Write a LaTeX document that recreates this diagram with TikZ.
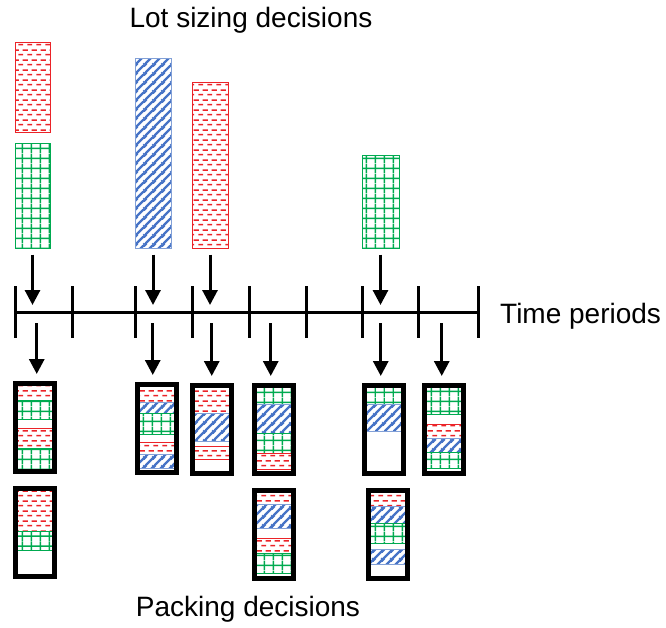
\documentclass[tikz,border=0pt]{standalone}
\usepackage{fontspec}
\setmainfont{Liberation Sans}
\usetikzlibrary{arrows.meta,patterns.meta}

\definecolor{lsred}{RGB}{235,35,40}
\definecolor{lsgreen}{RGB}{0,170,80}
\definecolor{lsblue}{RGB}{70,115,198}
\definecolor{lsblueedge}{RGB}{130,160,215}

\tikzdeclarepattern{
  name=reddash,
  type=colored,
  bottom left={(0pt,0pt)},
  top right={(9pt,10pt)},
  tile size={(9pt,10pt)},
  code={
    \draw[lsred, line width=1.6pt] (0.5pt,2.5pt) -- (5.5pt,2.5pt);
    \draw[lsred, line width=1.6pt] (5pt,7.5pt) -- (9pt,7.5pt);
    \draw[lsred, line width=1.6pt] (0pt,7.5pt) -- (1pt,7.5pt);
  }
}
\tikzdeclarepattern{
  name=greengrid,
  type=colored,
  bottom left={(0pt,0pt)},
  top right={(9.3pt,9.6pt)},
  tile size={(9.3pt,9.6pt)},
  code={
    \draw[lsgreen, line width=1.4pt] (4.65pt,0pt) -- (4.65pt,9.6pt);
    \draw[lsgreen, line width=1.4pt] (0pt,4.8pt) -- (9.3pt,4.8pt);
  }
}
\tikzdeclarepattern{
  name=bluehatch,
  type=colored,
  bottom left={(0pt,0pt)},
  top right={(8.5pt,8.5pt)},
  tile size={(8.5pt,8.5pt)},
  code={
    \draw[lsblue, line width=2.4pt] (-1pt,-1pt) -- (9.5pt,9.5pt);
    \draw[lsblue, line width=2.4pt] (-1.5pt,7pt) -- (1.5pt,10pt);
    \draw[lsblue, line width=2.4pt] (7pt,-1.5pt) -- (10pt,1.5pt);
  }
}

\begin{document}
\begin{tikzpicture}[x=1pt,y=-1pt,
    lbl/.style={font=\fontsize{28}{32}\selectfont, inner sep=0pt},
    lot/.style={inner sep=0pt, line width=1.5pt},
    rd/.style={draw=lsred, line width=1pt, pattern=reddash},
    gd/.style={draw=lsgreen, line width=1pt, pattern=greengrid},
    bd/.style={draw=lsblueedge, line width=1pt, pattern=bluehatch},
    bin/.style={draw, line width=4.5pt, minimum width=39pt, minimum height=88pt,
      inner sep=0pt, anchor=north west},
    arr/.style={-{Triangle[length=15pt,width=15pt]}, line width=3pt},
    axis/.style={line width=3pt},
    tick/.style={line width=3pt}]
  \useasboundingbox (0,0) rectangle (666,627);

  \node[lbl] (lotlabel) at (251,20) {Lot sizing decisions};
  \node[lbl] (packlabel) at (248,609) {Packing decisions};
  \node[lbl, anchor=west] (timelabel) at (500,316) {Time periods};

  % lot sizing bars
  \node[lot, rd, minimum width=35pt, minimum height=90pt] (lsA) at (32.5,87) {};
  \node[lot, gd, minimum width=35pt, minimum height=105pt] (lsB) at (32.5,195.5) {};
  \node[lot, bd, minimum width=36pt, minimum height=190pt] (lsC) at (153,153) {};
  \node[lot, rd, minimum width=36pt, minimum height=166pt] (lsD) at (210,165) {};
  \node[lot, gd, minimum width=37pt, minimum height=93pt] (lsE) at (380.5,201.5) {};

  % time axis
  \coordinate (t0) at (15,312);
  \coordinate (t8) at (478,312);
  \draw[axis] (t0) -- (t8);
  \foreach \x in {15,72,135,192,249,306,362,418,478}
    \draw[tick] (\x,286) -- (\x,338);

  % bins
  \begin{scope}[shift={(13,381)}]
    \path[rd] (0,0) rectangle (39,19);
    \path[gd] (0,19) rectangle (39,38);
    \path[rd] (0,47) rectangle (39,67);
    \path[gd] (0,67) rectangle (39,88);
    \node[bin] (pA) at (0,0) {};
  \end{scope}
  \begin{scope}[shift={(13,486)}]
    \path[rd] (0,0) rectangle (39,45);
    \path[gd] (0,45) rectangle (39,64);
    \node[bin] (pA2) at (0,0) {};
  \end{scope}
  \begin{scope}[shift={(135,382)}]
    \path[rd] (0,2) rectangle (39,20);
    \path[bd] (0,20) rectangle (39,31);
    \path[gd] (0,31) rectangle (39,52);
    \path[rd] (0,60) rectangle (39,72);
    \path[bd] (0,72) rectangle (39,86);
    \node[bin] (pB) at (0,0) {};
  \end{scope}
  \begin{scope}[shift={(190,383)}]
    \path[rd] (0,0) rectangle (39,30);
    \path[bd] (0,30) rectangle (39,58);
    \path[rd] (0,63) rectangle (39,76);
    \node[bin] (pC) at (0,0) {};
  \end{scope}
  \begin{scope}[shift={(252,383)}]
    \path[gd] (0,0) rectangle (39,21);
    \path[bd] (0,21) rectangle (39,50);
    \path[gd] (0,50) rectangle (39,70);
    \path[rd] (0,70) rectangle (39,86);
    \node[bin] (pD) at (0,0) {};
  \end{scope}
  \begin{scope}[shift={(252,488)}]
    \path[rd] (0,2) rectangle (39,16);
    \path[bd] (0,16) rectangle (39,40);
    \path[rd] (0,50) rectangle (39,65);
    \path[gd] (0,65) rectangle (39,85);
    \node[bin] (pD2) at (0,0) {};
  \end{scope}
  \begin{scope}[shift={(362,383)}]
    \path[gd] (0,0) rectangle (39,21);
    \path[bd] (0,21) rectangle (39,48);
    \node[bin] (pE) at (0,0) {};
  \end{scope}
  \begin{scope}[shift={(366,488)}]
    \path[rd] (0,2) rectangle (39,18);
    \path[bd] (0,18) rectangle (39,35);
    \path[gd] (0,35) rectangle (39,55);
    \path[bd] (0,61) rectangle (39,76);
    \node[bin] (pE2) at (0,0) {};
  \end{scope}
  \begin{scope}[shift={(422,383)}]
    \path[gd] (0,0) rectangle (39,31);
    \path[rd] (0,41) rectangle (39,55);
    \path[bd] (0,55) rectangle (39,69);
    \path[gd] (0,69) rectangle (39,85);
    \node[bin] (pF) at (0,0) {};
  \end{scope}

  % arrows
  \foreach \b in {lsB,lsC,lsD,lsE}
    \draw[arr] ([yshift=-6pt]\b.south) -- ([yshift=7pt]\b.south |- t0);
  \foreach \b/\s in {pA/2,pB/-4,pC/0,pD/-3,pE/-3,pF/-2}
    \draw[arr] ([xshift=\s pt, yshift=-11pt]\b.north |- t0) -- ([xshift=\s pt, yshift=7pt]\b.north);
\end{tikzpicture}
\end{document}
